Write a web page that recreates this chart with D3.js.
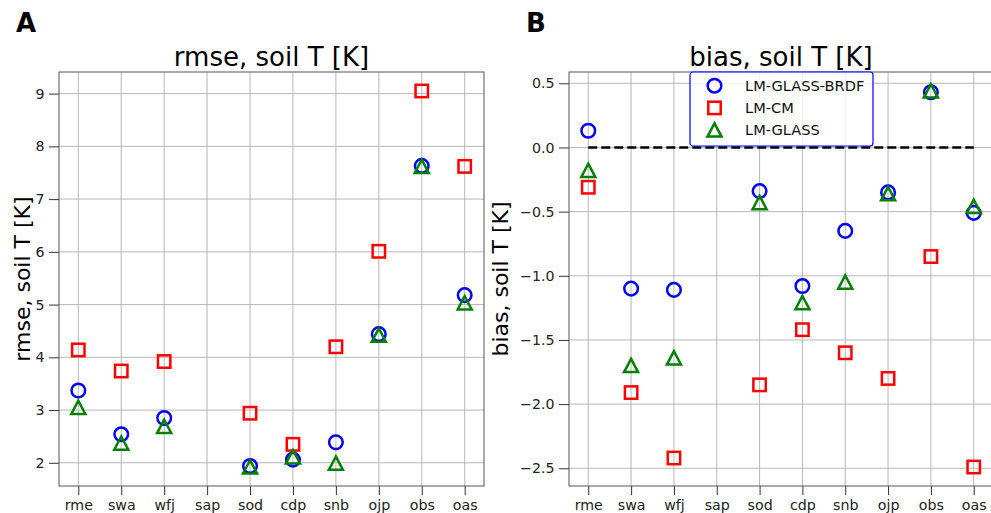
<!DOCTYPE html>
<html>
<head>
<meta charset="utf-8">
<script src="https://cdn.jsdelivr.net/npm/d3@7"></script>
<style>
  body { margin: 0; background: #fff; }
  svg { font-family: "DejaVu Sans", sans-serif; }
  .tick text { fill: #222; }
</style>
</head>
<body>
<svg id="chart" width="991" height="513"></svg>
<script>
// site names along the x axis
var sites = ["rme", "swa", "wfj", "sap", "sod", "cdp", "snb", "ojp", "obs", "oas"];

// model names (legend order)
var models = ["LM-GLASS-BRDF", "LM-CM", "LM-GLASS"];

// rmse of soil temperature per site, null = no data
var rmseBRDF  = [3.37, 2.54, 2.85, null, 1.94, 2.06, 2.39, 4.44, 7.63, 5.18];
var rmseCM    = [4.14, 3.74, 3.92, null, 2.94, 2.35, 4.20, 6.01, 9.05, 7.62];
var rmseGLASS = [3.05, 2.37, 2.69, null, 1.92, 2.11, 1.99, 4.42, 7.62, 5.03];

// bias of soil temperature per site
var biasBRDF  = [0.13, -1.10, -1.11, null, -0.34, -1.08, -0.65, -0.35, 0.43, -0.51];
var biasCM    = [-0.31, -1.91, -2.42, null, -1.85, -1.42, -1.60, -1.80, -0.85, -2.49];
var biasGLASS = [-0.18, -1.70, -1.64, null, -0.43, -1.21, -1.05, -0.36, 0.44, -0.46];

// tick values
var rmseTicks = [2, 3, 4, 5, 6, 7, 8, 9];
var biasTicks = [-2.5, -2.0, -1.5, -1.0, -0.5, 0.0, 0.5];

var colors = {"LM-GLASS-BRDF": "blue", "LM-CM": "red", "LM-GLASS": "green"};
var shapes = {"LM-GLASS-BRDF": "circle", "LM-CM": "square", "LM-GLASS": "triangle"};

var svg = d3.select("#chart");

// draw one marker of a given shape into a selection
function addMarker(sel, shape, color) {
    if (shape == "circle") {
        sel.append("circle").attr("r", 6.8);
    } else if (shape == "square") {
        sel.append("rect").attr("x", -6.2).attr("y", -6.2).attr("width", 12.4).attr("height", 12.4);
    } else {
        sel.append("path").attr("d", "M0,-6.8L-7,6.5L7,6.5Z");
    }
    sel.selectAll("*")
        .style("fill", "none")
        .style("stroke", color)
        .style("stroke-width", 2.5);
}

function drawPanel(p) {
    var w = p.right - p.left;
    var h = p.bottom - p.top;

    var g = svg.append("g")
        .attr("transform", "translate(" + p.left + "," + p.top + ")");

    var x = d3.scaleLinear()
        .domain([-0.45, sites.length - 1 + 0.45])
        .range([0, w]);

    var y = d3.scaleLinear()
        .domain(p.ydomain)
        .range([h, 0]);

    // grid lines
    g.append("g").selectAll("line.vgrid")
        .data(sites)
        .enter().append("line")
        .attr("x1", function(d, i) { return x(i); })
        .attr("x2", function(d, i) { return x(i); })
        .attr("y1", 0).attr("y2", h)
        .style("stroke", "#b0b0b0").style("stroke-width", 0.9);

    g.append("g").selectAll("line.hgrid")
        .data(p.ticks)
        .enter().append("line")
        .attr("x1", 0).attr("x2", w)
        .attr("y1", function(d) { return y(d); })
        .attr("y2", function(d) { return y(d); })
        .style("stroke", "#b0b0b0").style("stroke-width", 0.9);

    // axes
    var xAxis = d3.axisBottom(x)
        .tickValues(d3.range(sites.length))
        .tickFormat(function(i) { return sites[i]; })
        .tickSize(9).tickPadding(5).tickSizeOuter(0);

    var yAxis = d3.axisLeft(y)
        .tickValues(p.ticks)
        .tickFormat(p.format)
        .tickSize(10).tickPadding(4.5).tickSizeOuter(0);

    var gx = g.append("g")
        .attr("transform", "translate(0," + h + ")")
        .call(xAxis);
    var gy = g.append("g").call(yAxis);

    [gx, gy].forEach(function(a) {
        a.select(".domain").remove();
        a.selectAll(".tick line").style("stroke", "#333").style("stroke-width", 1);
        a.selectAll(".tick text").style("font-size", "14.2px")
            .style("font-family", "DejaVu Sans, sans-serif");
    });

    // frame
    g.append("rect")
        .attr("width", w).attr("height", h)
        .style("fill", "none").style("stroke", "#555").style("stroke-width", 1);

    // zero line for bias
    if (p.zeroLine) {
        g.append("line")
            .attr("x1", x(0)).attr("x2", x(sites.length - 1))
            .attr("y1", y(0)).attr("y2", y(0))
            .style("stroke", "black").style("stroke-width", 2.5)
            .style("stroke-dasharray", "9,4");
    }

    // markers, drawn in legend order
    p.series.forEach(function(vals, k) {
        var m = models[k];
        var pts = vals.map(function(v, i) { return {i: i, v: v}; })
            .filter(function(d) { return d.v != null; });
        g.append("g").selectAll("g")
            .data(pts)
            .enter().append("g")
            .attr("transform", function(d) { return "translate(" + x(d.i) + "," + y(d.v) + ")"; })
            .each(function() { addMarker(d3.select(this), shapes[m], colors[m]); });
    });

    // title
    g.append("text")
        .attr("x", w / 2).attr("y", -6.5)
        .style("text-anchor", "middle")
        .style("font-size", "26px")
        .text(p.title);

    // y label
    g.append("text")
        .attr("transform", "rotate(-90)")
        .attr("x", -h / 2).attr("y", p.ylabelX)
        .style("text-anchor", "middle")
        .style("font-size", "22px")
        .text(p.ylabel);

    // panel letter
    svg.append("text")
        .attr("x", p.letterX).attr("y", 31.5)
        .style("font-size", "26px").style("font-weight", "bold")
        .text(p.letter);

    return {g: g, x: x, y: y};
}

drawPanel({
    left: 59, right: 484, top: 72, bottom: 486,
    ydomain: [1.56, 9.41], ticks: rmseTicks, format: d3.format("d"),
    series: [rmseBRDF, rmseCM, rmseGLASS],
    title: "rmse, soil T [K]", ylabel: "rmse, soil T [K]", ylabelX: -29,
    letter: "A", letterX: 16
});

drawPanel({
    left: 569, right: 993, top: 72, bottom: 486,
    ydomain: [-2.638, 0.588], ticks: biasTicks, format: d3.format(".1f"),
    series: [biasBRDF, biasCM, biasGLASS],
    title: "bias, soil T [K]", ylabel: "bias, soil T [K]", ylabelX: -61,
    letter: "B", letterX: 526, zeroLine: true
});

// legend in the bias panel
var legend = svg.append("g")
    .attr("transform", "translate(690,72)");

legend.append("rect")
    .attr("width", 183).attr("height", 74)
    .attr("rx", 3)
    .style("fill", "white").style("fill-opacity", 0.8)
    .style("stroke", "blue").style("stroke-width", 1.2);

var item = legend.selectAll("g.item")
    .data(models)
    .enter().append("g")
    .attr("transform", function(d, i) { return "translate(24.5," + (13.7 + i * 22.2) + ")"; });

item.each(function(d) { addMarker(d3.select(this), shapes[d], colors[d]); });

item.append("text")
    .attr("x", 30.5).attr("y", 5.2)
    .style("font-size", "14.6px")
    .style("fill", "#111")
    .text(function(d) { return d; });
</script>
</body>
</html>
